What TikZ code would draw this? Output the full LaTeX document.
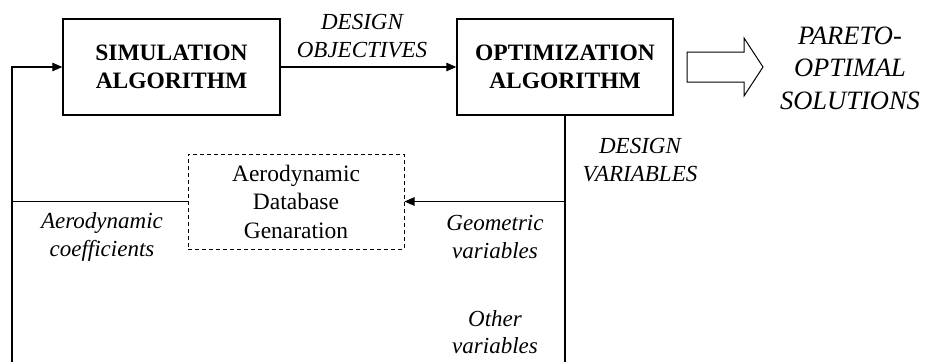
\documentclass[tikz,border=0pt]{standalone}
\usepackage{fontspec}
\setmainfont{Liberation Serif}
\usetikzlibrary{arrows.meta}
\tikzset{
  mainbox/.style={draw, line width=1.4pt, minimum width=217pt, minimum height=96pt, inner sep=0pt, align=center, font=\fontsize{23.5}{28}\selectfont\bfseries},
  dbbox/.style={draw, line width=1pt, dash pattern=on 4pt off 3pt, minimum width=216pt, minimum height=95pt, inner sep=0pt, align=center, font=\fontsize{23.5}{28.5}\selectfont},
  lbl/.style={align=center, inner sep=0pt, font=\fontsize{23}{27.5}\selectfont\itshape},
  conn/.style={line width=1.2pt},
  arr/.style={line width=1.2pt, -{Triangle[length=10pt,width=8.5pt]}},
}
\begin{document}
\begin{tikzpicture}[x=1pt,y=-1pt]
\useasboundingbox (0,0) rectangle (925,362);
% main boxes
\node[mainbox] (sim) at (171.5,67) {SIMULATION\\ALGORITHM};
\node[mainbox, minimum width=216pt] (opt) at (565,67) {OPTIMIZATION\\ALGORITHM};
\node[dbbox] (db) at (296,201.5) {Aerodynamic\\Database\\Genaration};
% coordinates for open ends
\coordinate (lb) at (12,362);
\coordinate (lt) at (12,67);
\coordinate (ob) at (565,362);
% connectors
\draw[arr] (sim.east) -- (opt.west);
\draw[arr] (lb) -- (lt) -- (sim.west);
\draw[conn] (opt.south) -- (ob);
\draw[arr] (opt.south |- db.east) -- (db.east);
\draw[conn] (db.west) -- (db.west -| lb);
% block arrow
\draw[line width=1pt, line join=miter] (687,52) -- (744,52) -- (744,38) -- (763,67) -- (744,96) -- (744,82) -- (687,82) -- cycle;
% labels
\node[lbl] (dobj) at (362,36) {DESIGN\\OBJECTIVES};
\node[lbl, font=\fontsize{26.5}{32.5}\selectfont\itshape] (pareto) at (850,68) {PARETO-\\OPTIMAL\\SOLUTIONS};
\node[lbl] (dvar) at (640,160) {DESIGN\\VARIABLES};
\node[lbl] (aco) at (102,237) {Aerodynamic\\coefficients};
\node[lbl] (geo) at (495,237) {Geometric\\variables};
\node[lbl] (oth) at (495,332) {Other\\variables};
\end{tikzpicture}
\end{document}
